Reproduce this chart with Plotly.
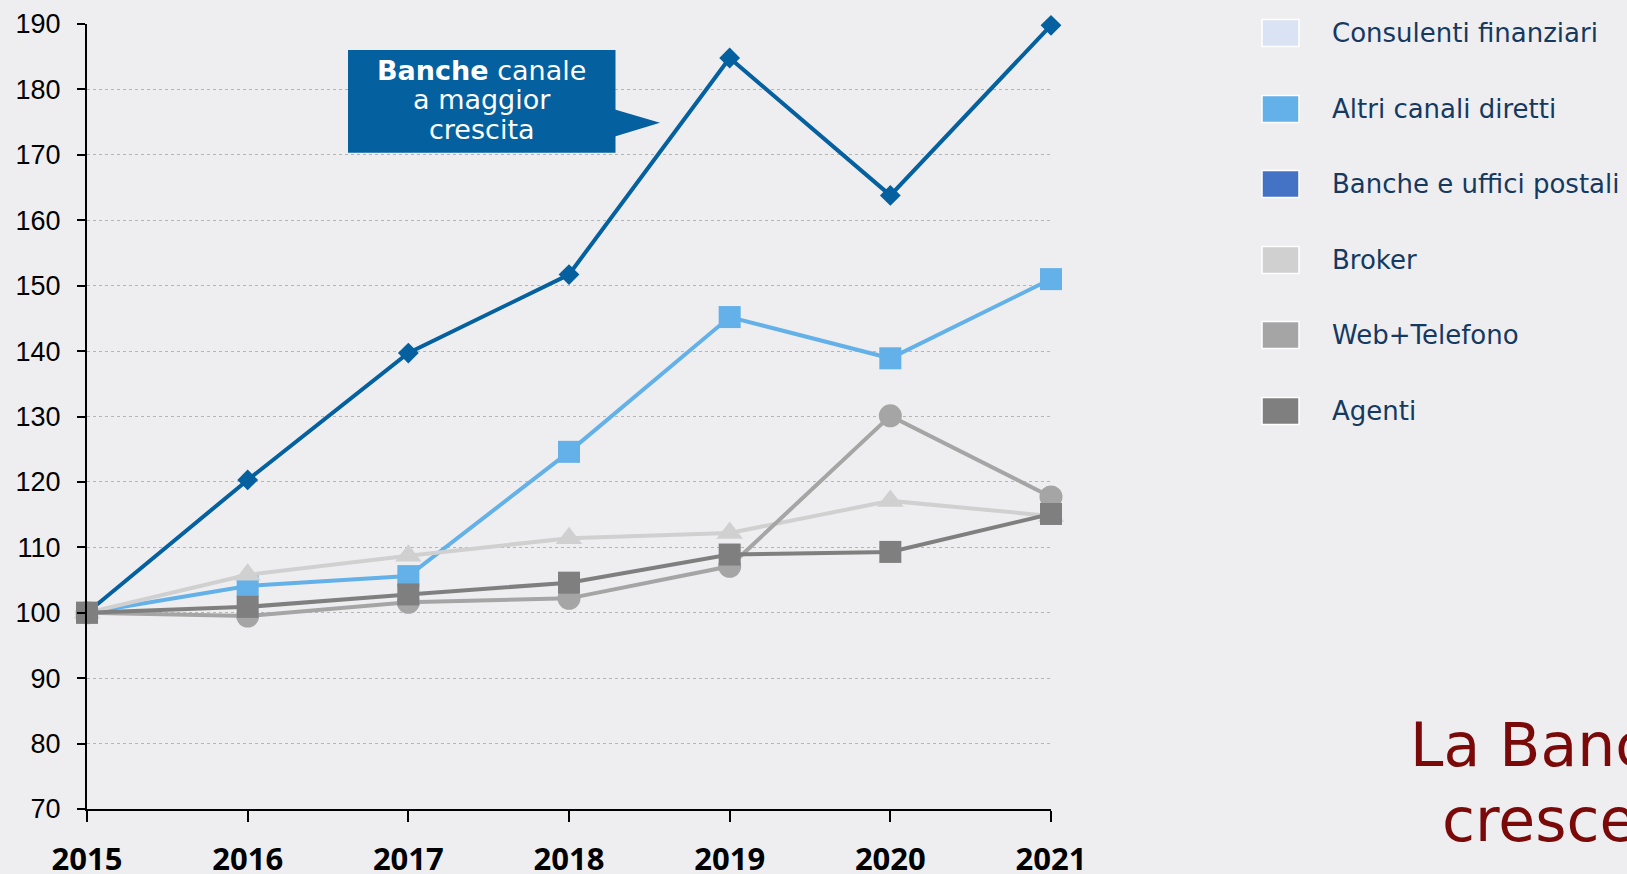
import plotly.graph_objects as go

years = [2015, 2016, 2017, 2018, 2019, 2020, 2021]
year_labels = ["2015", "2016", "2017", "2018", "2019", "2020", "2021"]

altri_canali = [100, 104.1, 105.6, 124.6, 145.2, 138.9, 151.0]
banche = [100, 120.3, 139.7, 151.7, 184.8, 163.8, 189.8]
broker = [100, 105.8, 108.7, 111.4, 112.2, 117.1, 114.8]
web_telefono = [100, 99.5, 101.6, 102.2, 107.1, 130.1, 117.7]
agenti = [100, 100.9, 102.8, 104.6, 108.9, 109.3, 115.1]

legend_labels = ["Consulenti finanziari", "Altri canali diretti", "Banche e uffici postali",
                 "Broker", "Web+Telefono", "Agenti"]
legend_colors = ["#DAE3F3", "#63B1E8", "#4472C4", "#D0D0D0", "#A5A5A5", "#7F7F7F"]

callout_lines = ["<b>Banche</b> canale", "a maggior", "crescita"]
side_lines = ["La Bancassicurazione", "cresce"]

BLUE = "#04609E"

series = [
    ("Altri canali diretti", altri_canali, "#63B1E8", "square", 22),
    ("Banche e uffici postali", banche, BLUE, "diamond", 16),
    ("Broker", broker, "#D0D0D0", "triangle-up", 23),
    ("Web+Telefono", web_telefono, "#A5A5A5", "circle", 23),
    ("Agenti", agenti, "#7F7F7F", "square", 22),
]

fig = go.Figure()
for name, vals, col, sym, sz in series:
    fig.add_trace(go.Scatter(
        x=years, y=vals, name=name, mode="lines+markers",
        line=dict(color=col, width=4),
        marker=dict(symbol=sym, size=sz, color=col, line=dict(width=0)),
        cliponaxis=False, showlegend=False,
    ))

W, H = 1627, 874
L, R, T, B = 87, 1051, 24, 809


def px_to_year(px):
    return 2015 + (px - L) / (R - L) * 6


def py_to_val(py):
    return 190 - (py - T) / (B - T) * 120


def pxp(px):
    return (px - L) / (R - L)


def pyp(py):
    return (B - py) / (B - T)


shapes = []
# callout box
shapes.append(dict(type="rect", xref="x", yref="y",
                   x0=px_to_year(348), x1=px_to_year(615.5),
                   y0=py_to_val(152.7), y1=py_to_val(50),
                   fillcolor=BLUE, line=dict(width=0), layer="above"))
shapes.append(dict(type="path", xref="x", yref="y",
                   path="M {} {} L {} {} L {} {} Z".format(
                       px_to_year(614), py_to_val(109.3),
                       px_to_year(660), py_to_val(122.7),
                       px_to_year(614), py_to_val(136.7)),
                   fillcolor=BLUE, line=dict(width=0), layer="above"))

annotations = []
for line, cy in zip(callout_lines, [70, 99.5, 129.5]):
    annotations.append(dict(
        xref="x", yref="y", x=px_to_year(481.5), y=py_to_val(cy),
        text=line, showarrow=False,
        font=dict(family="DejaVu Sans", size=27, color="white"),
        align="center", xanchor="center", yanchor="middle"))

# legend
row_centers = [33, 109, 184, 260, 335, 411]
for lab, col, cy in zip(legend_labels, legend_colors, row_centers):
    shapes.append(dict(type="rect", xref="paper", yref="paper",
                       x0=pxp(1262), x1=pxp(1299), y0=pyp(cy + 13.5), y1=pyp(cy - 13.5),
                       fillcolor=col, line=dict(color="white", width=1.5)))
    annotations.append(dict(xref="paper", yref="paper", x=pxp(1330), y=pyp(cy),
                            text=lab, showarrow=False, xanchor="left", yanchor="middle",
                            font=dict(family="DejaVu Sans", size=26, color="#15395F")))

annotations.append(dict(xref="paper", yref="paper", x=pxp(1408), y=pyp(745),
                        text=side_lines[0], showarrow=False, xanchor="left", yanchor="middle",
                        font=dict(family="DejaVu Sans", size=60, color="#7A0A0A")))
annotations.append(dict(xref="paper", yref="paper", x=pxp(1440), y=pyp(820),
                        text=side_lines[1], showarrow=False, xanchor="left", yanchor="middle",
                        font=dict(family="DejaVu Sans", size=60, color="#7A0A0A")))

fig.update_layout(
    width=W, height=H,
    margin=dict(l=L, r=W - R, t=T, b=H - B, pad=0, autoexpand=False),
    paper_bgcolor="#EEEEF0", plot_bgcolor="rgba(0,0,0,0)",
    showlegend=False,
    shapes=shapes, annotations=annotations,
    xaxis=dict(range=[2015, 2021], tickvals=years, ticktext=year_labels,
               showgrid=False, zeroline=False, showline=True, linecolor="black", linewidth=2,
               ticks="outside", ticklen=11, tickwidth=2, tickcolor="black",
               tickfont=dict(family="Open Sans", size=31, color="black", weight="bold"),
               ticklabelstandoff=11, automargin=False),
    yaxis=dict(range=[70, 190], dtick=10, tick0=70,
               showgrid=True, gridcolor="#B5B5B5", griddash="dot", gridwidth=1,
               zeroline=False, showline=True, linecolor="black", linewidth=2,
               ticks="outside", ticklen=8, tickwidth=2, tickcolor="black",
               tickfont=dict(family="Liberation Sans", size=27, color="black"),
               ticklabelstandoff=11, automargin=False),
)

fig.write_html("out.html", config={"displayModeBar": False})
